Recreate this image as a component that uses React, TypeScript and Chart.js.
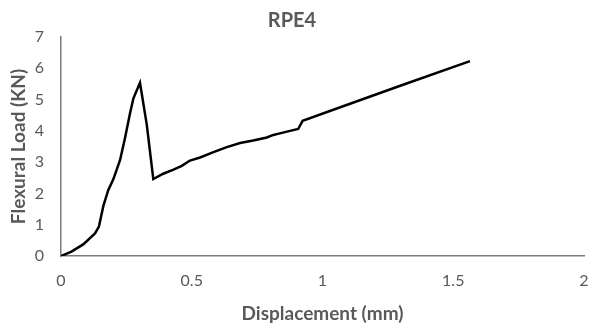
import React, { useEffect, useRef } from "react";
import { Chart, registerables } from "chart.js";

Chart.register(...registerables);

const displacement = [
  0, 0.04, 0.085, 0.13, 0.145, 0.162, 0.181, 0.2, 0.226, 0.245, 0.264, 0.277,
  0.302, 0.328, 0.353, 0.391, 0.43, 0.462, 0.493, 0.532, 0.583, 0.634, 0.685,
  0.735, 0.787, 0.812, 0.837, 0.876, 0.907, 0.924, 1.1, 1.3, 1.564,
];
const load = [
  0, 0.14, 0.37, 0.72, 0.94, 1.6, 2.11, 2.45, 3.07, 3.78, 4.56, 5.04, 5.54, 4.2,
  2.46, 2.63, 2.76, 2.88, 3.05, 3.15, 3.32, 3.48, 3.61, 3.69, 3.79, 3.87, 3.92,
  4.0, 4.06, 4.32, 4.85, 5.45, 6.23,
];
const xTicks = [0, 0.5, 1, 1.5, 2];
const yTicks = [0, 1, 2, 3, 4, 5, 6, 7];

const FONT = "Lato, 'Open Sans', sans-serif";
const GREY = "#595959";

export default function App() {
  const ref = useRef<HTMLCanvasElement>(null);
  useEffect(() => {
    if (!ref.current) return;
    const chart = new Chart(ref.current, {
      type: "scatter",
      data: {
        datasets: [
          {
            data: displacement.map((x, i) => ({ x, y: load[i] })),
            borderColor: "#000000",
            backgroundColor: "#000000",
            borderWidth: 2.5,
            pointRadius: 0,
            showLine: true,
            fill: false,
            tension: 0,
          },
        ],
      },
      options: {
        responsive: false,
        animation: false,
        layout: { padding: { left: 0, right: 13, top: 0, bottom: 0 } },
        plugins: {
          legend: { display: false },
          tooltip: { enabled: false },
          title: {
            display: true,
            text: "RPE4",
            color: GREY,
            font: { family: FONT, size: 20, weight: "bold" },
            padding: { top: 9, bottom: 4 },
          },
        },
        scales: {
          x: {
            type: "linear",
            min: 0,
            max: 2,
            afterBuildTicks: (s: any) => {
              s.ticks = xTicks.map((v) => ({ value: v }));
            },
            afterFit: (s: any) => {
              s.height = 79;
              s.paddingRight = 0;
              s.paddingLeft = 0;
            },
            ticks: {
              color: GREY,
              font: { family: FONT, size: 16 },
              padding: 15,
              maxRotation: 0,
              callback: (v: any) => String(v),
            },
            grid: { display: false, drawTicks: false },
            border: { display: true, color: "#7a7a7a", width: 1.5 },
            title: {
              display: true,
              text: "Displacement (mm)",
              color: GREY,
              font: { family: FONT, size: 19, weight: "bold" },
              padding: { top: 0, bottom: 10 },
            },
          },
          y: {
            type: "linear",
            min: 0,
            max: 7,
            afterBuildTicks: (s: any) => {
              s.ticks = yTicks.map((v) => ({ value: v }));
            },
            afterFit: (s: any) => {
              s.width = 61;
            },
            ticks: {
              color: GREY,
              font: { family: FONT, size: 16 },
              padding: 17,
              callback: (v: any) => String(v),
            },
            grid: { display: false, drawTicks: false },
            border: { display: true, color: "#7a7a7a", width: 1.5 },
            title: {
              display: true,
              text: "Flexural Load (KN)",
              color: GREY,
              font: { family: FONT, size: 19, weight: "bold" },
              padding: { top: 7, bottom: 0 },
            },
          },
        },
      },
    } as any);
    return () => chart.destroy();
  }, []);
  return (
    <div style={{ position: "fixed", left: 0, top: 0, width: 597, height: 335, background: "#fff" }}>
      <canvas ref={ref} width={597} height={335} style={{ width: 597, height: 335, display: "block" }} />
    </div>
  );
}
